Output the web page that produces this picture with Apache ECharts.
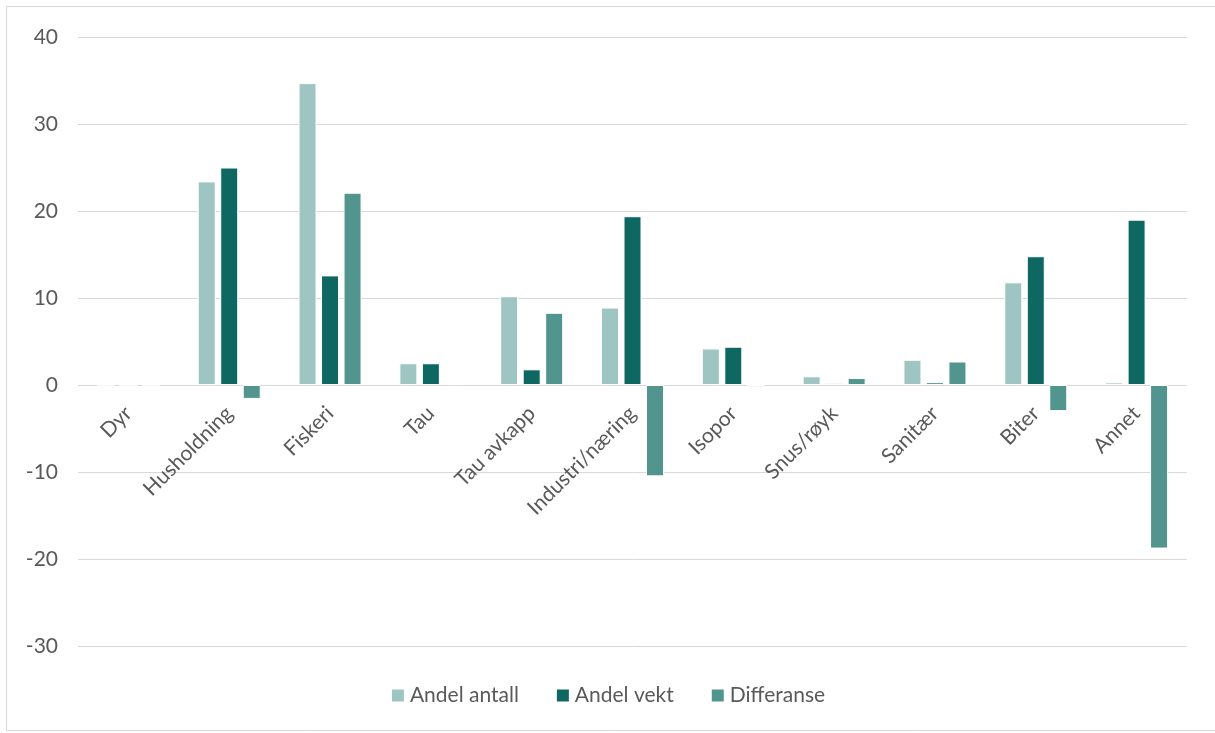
<!DOCTYPE html>
<html><head><meta charset="utf-8">
<script src="https://cdn.jsdelivr.net/npm/echarts@6/dist/echarts.min.js"></script>
<style>html,body{margin:0;padding:0;background:#fff}#c{width:1215px;height:733px}</style>
</head><body><div id="c"></div>
<script>
const categories = ['Dyr','Husholdning','Fiskeri','Tau','Tau avkapp','Industri/næring','Isopor','Snus/røyk','Sanitær','Biter','Annet'];
const andelAntall = [0, 23.4, 34.7, 2.5, 10.2, 8.9, 4.2, 1.0, 2.9, 11.8, 0.3];
const andelVekt   = [0, 25.0, 12.6, 2.5, 1.8, 19.4, 4.4, 0.2, 0.3, 14.8, 19.0];
const differanse  = [0, -1.6, 22.1, 0.1, 8.3, -10.5, -0.2, 0.8, 2.7, -3.0, -18.8];
const seriesNames = ['Andel antall','Andel vekt','Differanse'];
const colors = ['#9FC5C2','#0E6760','#52958E'];
const font = 'Lato, "Open Sans", sans-serif';
const chart = echarts.init(document.getElementById('c'));
const mk = (name, data, i) => ({
  name, type:'bar', data, barWidth:18, barGap:'25%',
  itemStyle:{color:colors[i], borderColor:'#fff', borderWidth:1}
});
chart.setOption({
  animation:false,
  color: colors,
  graphic:[{type:'rect', shape:{x:6.5,y:6.5,width:1220,height:724}, style:{fill:'none', stroke:'#D9D9D9', lineWidth:1}, z:-1}],
  grid:{left:78, right:28, top:37, bottom:87, containLabel:false, outerBoundsMode:'none'},
  legend:{bottom:22, left:'center', itemWidth:14, itemHeight:14, itemGap:36, icon:'rect',
    textStyle:{color:'#595959', fontSize:21, fontFamily:font}, data:seriesNames},
  xAxis:{type:'category', data:categories, position:'bottom', offset:-261,
    axisLine:{show:false, onZero:false}, axisTick:{show:false},
    axisLabel:{rotate:45, color:'#595959', fontSize:21, fontFamily:font, margin:25, interval:0}},
  yAxis:{type:'value', min:-30, max:40, interval:10,
    axisLine:{show:false}, axisTick:{show:false},
    axisLabel:{color:'#595959', fontSize:21, fontFamily:font, margin:20},
    splitLine:{lineStyle:{color:'#D9D9D9', width:1}}},
  series:[mk(seriesNames[0], andelAntall, 0), mk(seriesNames[1], andelVekt, 1), mk(seriesNames[2], differanse, 2)]
});
</script></body></html>
